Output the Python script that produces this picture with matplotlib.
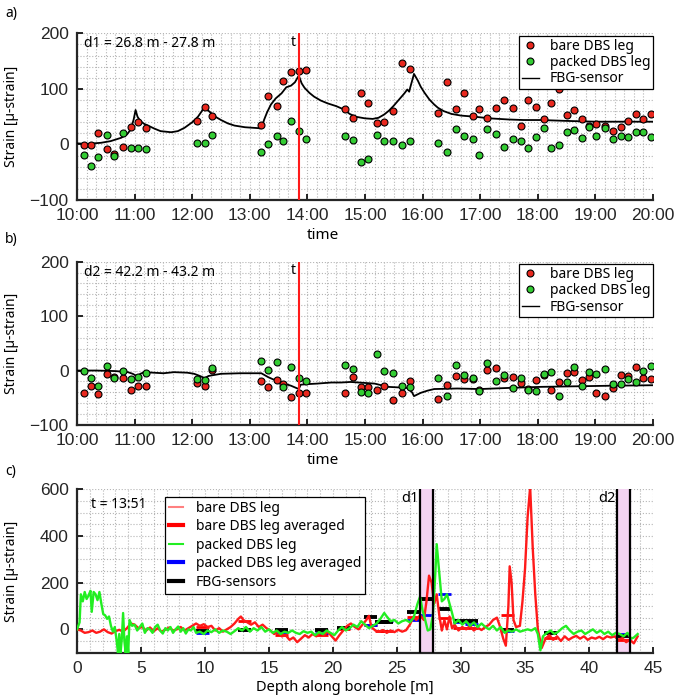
import numpy as np
import matplotlib.pyplot as plt
from matplotlib.lines import Line2D
from matplotlib.ticker import MultipleLocator

plt.rcParams['font.family'] = ['Noto Sans', 'DejaVu Sans']


def hrs(s):
    h, m = s.split(':')
    return int(h) + int(m) / 60.0


# ---- panels a) and b): time series at d1 and d2 ----
sample_times = ['10:07', '10:15', '10:22', '10:31', '10:39', '10:48', '10:56', '11:04', '11:12',
                '12:05', '12:13', '12:21',
                '13:12', '13:19', '13:28', '13:35', '13:43', '13:51', '13:59',
                '14:39', '14:47', '14:56', '15:03', '15:12', '15:20', '15:29', '15:38', '15:47',
                '16:16', '16:25', '16:35', '16:43', '16:52', '16:59', '17:07', '17:16', '17:25',
                '17:34', '17:42', '17:50', '17:58', '18:06', '18:14', '18:22', '18:30', '18:38',
                '18:46', '18:53', '19:01', '19:10', '19:18', '19:27', '19:34', '19:42', '19:50', '19:58']

bare_d1 = [-1, -1, 21, -9, -18, -5, 31, 41, 29,
           42, 68, 51,
           35, 88, 69, 115, 130, 133, 134,
           64, 47, 92, 75, 38, 41, 60, 147, 135,
           56, 112, 63, 93, 52, 63, 48, 65, 80,
           65, 34, 80, 68, 45, 75, 99, 53, 62,
           46, 34, 37, 34, 25, 32, 43, 54, 45, 54]
packed_d1 = [-19, -39, -23, 17, -20, 20, -7, -6, -8,
             3, 3, 17,
             -14, 0, 16, 7, 42, 24, 9,
             15, 8, -32, -26, 17, 7, 7, -1, 6,
             3, -14, 27, 15, 9, -19, 28, 18, -5,
             10, 7, -7, 14, 29, -7, -1, 23, 26,
             11, 32, 16, 30, 10, 16, 13, 22, 23, 13]

bare_d2 = [-41, -29, -44, -6, -12, -14, -36, -29, -29,
           -22, -29, 1,
           -20, -30, -17, -25, -48, -41, -41,
           -42, -11, -31, -31, -36, -28, -54, -42, -19,
           -53, -27, -10, -15, -15, -36, 1, 4, -14,
           -11, -22, -34, -17, -8, -35, -21, -4, -2,
           -17, -11, -41, -46, -33, -9, -10, 6, -13, -16]
packed_d2 = [-1, -14, -29, 8, -13, -1, -16, -12, -5,
             -16, -17, 4,
             17, 1, 15, -31, 6, -14, -20,
             11, 3, -39, -41, 31, -1, -4, -29, -31,
             -14, -46, 11, -8, -14, -38, 13, -19, -8,
             -33, -14, -36, -38, -6, -3, -46, -21, 6,
             -29, -3, -6, 3, -24, -24, -15, -21, -1, 9]

fbg_d1_times = ['10:00', '10:10', '10:25', '10:35', '10:46', '10:52', '10:56', '10:59', '11:01', '11:03',
                '11:06', '11:10', '11:14', '11:20', '11:27', '11:38', '11:45', '11:52', '12:00', '12:06',
                '12:10', '12:13', '12:16', '12:20', '12:25', '12:30', '12:37', '12:44', '12:55', '13:12',
                '13:15', '13:18', '13:22', '13:27', '13:33', '13:38', '13:43', '13:47', '13:51', '13:54',
                '13:57', '14:02', '14:07', '14:14', '14:21', '14:30', '14:38', '14:44', '14:50', '15:00',
                '15:08', '15:14', '15:20', '15:25', '15:30', '15:36', '15:41', '15:44', '15:46', '15:47',
                '15:51', '15:55', '15:58', '16:02', '16:07', '16:12', '16:16', '16:22', '16:30', '16:40',
                '16:54', '17:10', '17:29', '17:45', '18:03', '18:20', '18:38', '19:00', '19:13', '19:30', '20:00']
fbg_d1 = [2, 1, 3, 6, 12, 18, 27, 45, 62, 50,
          42, 37, 34, 29, 24, 22, 24, 30, 40, 50,
          60, 70, 62, 56, 49, 44, 38, 34, 31, 29,
          45, 58, 72, 83, 92, 103, 106, 112, 124, 110,
          102, 93, 86, 79, 74, 69, 63, 55, 50, 47,
          46, 48, 54, 61, 70, 82, 92, 99, 95, 102,
          127, 115, 104, 93, 81, 72, 66, 60, 55, 52,
          50, 47, 45, 44, 44, 43, 42, 41, 41, 41, 41]

fbg_d2_times = ['10:00', '10:20', '10:40', '10:53', '10:58', '11:03', '11:06', '11:10', '11:20', '11:30',
                '11:41', '11:55', '12:02', '12:08', '12:13', '12:17', '12:20', '12:30', '12:50', '13:12',
                '13:16', '13:19', '13:24', '13:29', '13:36', '13:43', '13:51', '13:53', '14:00', '14:10',
                '14:25', '14:35', '14:45', '15:10', '15:24', '15:35', '15:44', '15:49', '15:51', '15:58',
                '16:05', '16:12', '16:36', '17:00', '17:29', '18:03', '18:38', '19:13', '20:00']
fbg_d2 = [0, 0, -1, -3, -6, -11, -6, -3, -4, -5,
          -3, -4, -6, -10, -14, -10, -9, -6, -5, -5,
          -9, -12, -16, -19, -24, -28, -34, -26, -25, -24,
          -22, -22, -21, -24, -30, -31, -32, -40, -47, -41,
          -37, -34, -33, -34, -32, -30, -29, -28, -27]

t_snapshot = '13:51'
time_ticks = ['10:00', '11:00', '12:00', '13:00', '14:00', '15:00', '16:00', '17:00', '18:00', '19:00', '20:00']

# ---- panel c): strain profile along the borehole at t ----
bare_depth = [0.0, 0.3, 0.6, 0.9, 1.2, 1.5, 1.8, 2.1, 2.4, 2.7, 3.0, 3.3, 3.6, 3.9, 4.2, 4.5, 4.8,
              5.1, 5.4, 5.7, 6.0, 6.3, 6.6, 6.9, 7.2, 7.5, 7.8, 8.1, 8.4, 8.7, 9.0, 9.3, 9.6, 9.9,
              10.2, 10.5, 10.8, 11.1, 11.4, 11.7, 12.0, 12.3, 12.6, 12.8, 13.0, 13.3, 13.6, 13.9,
              14.2, 14.5, 14.8, 15.1, 15.4, 15.7, 16.0, 16.3, 16.6, 16.9, 17.2, 17.5, 17.8, 18.1,
              18.4, 18.7, 19.0, 19.3, 19.6, 19.9, 20.2, 20.5, 20.8, 21.1, 21.4, 21.7, 22.0, 22.3,
              22.6, 22.8, 23.0, 23.3, 23.6, 23.9, 24.2, 24.5, 24.8, 25.1, 25.4, 25.7, 26.0, 26.3,
              26.5, 26.8, 27.1, 27.3, 27.5, 27.7, 27.9, 28.1, 28.3, 28.5, 28.7, 28.9, 29.1, 29.3,
              29.5, 29.8, 30.1, 30.4, 30.7, 31.0, 31.3, 31.6, 31.9, 32.2, 32.5, 32.8, 33.0, 33.3,
              33.5, 33.7, 33.8, 33.95, 34.1, 34.3, 34.6, 34.8, 35.0, 35.2, 35.4, 35.6, 35.8, 36.0,
              36.3, 36.6, 36.9, 37.2, 37.5, 37.8, 38.1, 38.4, 38.7, 39.0, 39.3, 39.6, 39.9, 40.2,
              40.5, 40.8, 41.1, 41.4, 41.7, 42.0, 42.3, 42.6, 42.9, 43.2, 43.5, 43.8]
bare_strain = [0, -5, -15, -12, -5, -15, -10, 0, -12, -18, -8, -2, -10, 5, 25, 20, 5,
               10, -5, 8, -8, 5, -10, -2, 8, -5, 0, 10, -5, 5, 15, 25, 15, 22,
               10, 15, -5, 5, -10, 0, 10, 25, 45, 55, 40, 30, 20, 30,
               10, 20, 5, -5, -20, -10, -30, -25, -45, -35, -55, -40, -25, -35,
               -20, -30, -15, -25, -10, -30, -48, -25, -5, 15, 25, 10, 0, 20,
               40, 58, 10, -5, -10, -3, -15, -5, -12, -2, -10, -4, 20, 55,
               40, 60, 40, 120, 230, 200, 110, 150, 60, -5, 40, 0, 55, 5,
               20, -5, 10, 0, 15, -5, 8, -3, 10, 20, 40, 50, 20, -40,
               -70, 100, 270, 200, 40, 10, 15, 120, 260, 480, 610, 350, 150, 0,
               -80, -40, -25, -45, -30, -50, -30, -45, -35, -28, -40, -30, -45, -35,
               -40, -32, -42, -30, -35, -30, -45, -38, -55, -45, -60, -30]

packed_depth = [0.0, 0.2, 0.3, 0.45, 0.6, 0.75, 0.9, 1.05, 1.15, 1.3, 1.45, 1.6, 1.75, 1.9, 2.05,
                2.2, 2.35, 2.5, 2.65, 2.8, 2.95, 3.1, 3.2, 3.3, 3.4, 3.5, 3.6, 3.7, 3.8, 3.9, 4.0,
                4.1, 4.3, 4.5, 4.7, 4.9, 5.1, 5.3, 5.5, 5.7, 5.9, 6.1, 6.3, 6.5, 6.7, 6.9, 7.1,
                7.3, 7.5, 7.7, 7.9, 8.1, 8.3, 8.5, 8.7, 8.9, 9.1, 9.3, 9.6, 9.9, 10.2, 10.5, 10.8,
                11.1, 11.4, 11.7, 12.0, 12.3, 12.6, 12.9, 13.2, 13.5, 13.8, 14.1, 14.4, 14.7, 15.0,
                15.3, 15.6, 15.9, 16.2, 16.5, 16.8, 17.1, 17.4, 17.7, 18.0, 18.3, 18.6, 18.9, 19.2,
                19.5, 19.8, 20.1, 20.4, 20.7, 21.0, 21.3, 21.6, 21.9, 22.2, 22.5, 22.8, 23.1, 23.4,
                23.7, 24.0, 24.2, 24.5, 24.8, 25.1, 25.4, 25.7, 26.0, 26.3, 26.6, 26.8, 27.0, 27.2,
                27.4, 27.6, 27.8, 28.0, 28.1, 28.3, 28.5, 28.7, 28.9, 29.1, 29.3, 29.5, 29.8, 30.1,
                30.4, 30.7, 31.0, 31.3, 31.6, 31.9, 32.2, 32.5, 32.8, 33.1, 33.4, 33.7, 34.0, 34.3,
                34.6, 34.9, 35.2, 35.5, 35.8, 36.0, 36.2, 36.4, 36.7, 37.0, 37.3, 37.6, 37.9, 38.2,
                38.5, 38.8, 39.1, 39.4, 39.7, 40.0, 40.3, 40.6, 40.9, 41.2, 41.5, 41.8, 42.1, 42.4,
                42.7, 43.0, 43.3, 43.5, 43.8]
packed_strain = [0, 30, 150, 120, 160, 130, 145, 165, 75, 160, 150, 125, 160, 110, 65,
                 60, 45, 55, 15, -10, 10, -50, -100, -20, -100, -40, 70, -50, -100, -30, -100,
                 40, 15, 20, -5, 10, 25, -15, 5, 0, -15, 10, 20, -5, -18, 5, -5,
                 10, -15, 0, 12, -10, 5, -18, 0, -5, 10, -15, -10, -20, -5, -12, 0,
                 -15, -5, -10, -20, -8, 5, -5, 10, -10, 5, -5, 10, -10, 0,
                 -15, -5, -20, -10, -15, -5, -15, -20, -8, -15, -10, -25, -12, -20,
                 -5, -15, -25, -5, 10, -5, 5, 20, 10, 35, 20, 5, 15, 25,
                 45, 70, 55, 35, 40, 25, 35, 40, 30, 50, 110, 140, 80, 40,
                 -5, 0, 60, 250, 365, 240, 120, 130, 150, 110, 70, 25, 40, 20,
                 35, 15, 30, 10, 25, 10, 0, 15, -5, 10, -15, -5, -10, 0,
                 -10, -5, 0, -5, 5, -20, -90, -30, -15, -5, -20, -10, 5, 15,
                 -5, -20, -10, -5, -20, -10, 0, -15, -5, -20, -10, -25, -15, -20,
                 -30, -15, -40, -35, -20]

sensor_depth = [9.8, 13.1, 16.0, 19.1, 20.8, 22.9, 23.8, 24.2, 26.3, 27.3, 28.7, 29.9, 30.8, 33.6, 37.0, 42.7]
fbg_strain = [-8, -4, -4, -1, 7, 55, 31, 31, 76, 132, 87, 34, 34, -3, -14, -28]
bare_avg = [10, 35, -25, -25, 0, 20, -5, -5, 55, 130, 50, 5, 5, 60, -35, -45]
packed_avg = [-15, -3, -10, -15, 5, 20, 35, 35, 40, 60, 150, 30, 25, -8, -10, -20]

d1_range = [26.8, 27.8]
d2_range = [42.2, 43.2]

# ---- styling ----
red = '#e8281e'
green = '#33cc33'
grid_kw = dict(color='#b5b5b5', linestyle=':', linewidth=0.8)
tick_font = 'Liberation Sans'


def style_axes(ax):
    for s in ['top', 'right']:
        ax.spines[s].set_visible(False)
    for s in ['left', 'bottom']:
        ax.spines[s].set_linewidth(1.6)
        ax.spines[s].set_color('#262626')
    ax.tick_params(which='major', direction='in', length=4, width=1.2, labelsize=12.5, pad=6)
    ax.tick_params(which='minor', length=0)
    for lab in ax.get_xticklabels() + ax.get_yticklabels():
        lab.set_family(tick_font)
        lab.set_color('#262626')
    ax.grid(True, which='both', **grid_kw)
    ax.set_axisbelow(True)


fig = plt.figure(figsize=(6.92, 7.0), dpi=100)
ax_a = fig.add_axes([0.1113, 0.7143, 0.8324, 0.238])
ax_b = fig.add_axes([0.1113, 0.3929, 0.8324, 0.2333])
ax_c = fig.add_axes([0.1113, 0.0676, 0.8324, 0.2334])

t_samples = [hrs(s) for s in sample_times]
t_cut = hrs(t_snapshot)

for ax, bare, packed, ft, fv, label in [
        (ax_a, bare_d1, packed_d1, fbg_d1_times, fbg_d1, 'd1 = 26.8 m - 27.8 m'),
        (ax_b, bare_d2, packed_d2, fbg_d2_times, fbg_d2, 'd2 = 42.2 m - 43.2 m')]:
    ax.plot([hrs(s) for s in ft], fv, color='black', lw=1.3, zorder=3, label='FBG-sensor')
    ax.plot(t_samples, bare, 'o', color=red, mec='black', mew=0.8, ms=5, zorder=4, label='bare DBS leg')
    ax.plot(t_samples, packed, 'o', color=green, mec='black', mew=0.8, ms=5, zorder=4, label='packed DBS leg')
    ax.axvline(t_cut, color='#ff1a1a', lw=1.5, zorder=5)
    ax.text(t_cut - 0.06, 183, 't', ha='right', va='center', fontsize=10)
    ax.text(10.12, 181, label, ha='left', va='center', fontsize=10)
    ax.set_xlim(10, 20)
    ax.set_ylim(-100, 200)
    ax.set_xticks([hrs(s) for s in time_ticks])
    ax.set_xticklabels(time_ticks)
    ax.set_yticks([-100, 0, 100, 200])
    ax.xaxis.set_minor_locator(MultipleLocator(1 / 6))
    ax.yaxis.set_minor_locator(MultipleLocator(20))
    style_axes(ax)
    ax.set_ylabel('Strain [µ-strain]', fontsize=10)
    ax.yaxis.set_label_coords(-0.1, 0.5)
    ax.set_xlabel('time', fontsize=11)
    ax.xaxis.set_label_coords(0.427, -0.17)
    h = [Line2D([], [], ls='none', marker='o', color=red, mec='black', mew=0.8, ms=5),
         Line2D([], [], ls='none', marker='o', color=green, mec='black', mew=0.8, ms=5),
         Line2D([], [], color='black', lw=1)]
    leg = ax.legend(h, ['bare DBS leg', 'packed DBS leg', 'FBG-sensor'], loc='upper right',
                    bbox_to_anchor=(1.0, 0.985), fontsize=10, fancybox=False, framealpha=1,
                    edgecolor='black', borderpad=0.2, labelspacing=0.1, handlelength=1.2,
                    handletextpad=0.8, borderaxespad=0)
    leg.get_frame().set_linewidth(0.9)

# panel c
for rng in (d1_range, d2_range):
    ax_c.axvspan(rng[0], rng[1], color='#f4d4f2', zorder=1)
    for x in rng:
        ax_c.axvline(x, color='black', lw=1.6, zorder=6)
ax_c.text(d1_range[0] - 0.1, 560, 'd1', ha='right', va='center', fontsize=10.5)
ax_c.text(d2_range[0] - 0.1, 560, 'd2', ha='right', va='center', fontsize=10.5)

sd = np.array(sensor_depth)
ax_c.hlines(bare_avg, sd - 0.5, sd + 0.5, color='red', lw=2, zorder=3)
ax_c.hlines(packed_avg, sd - 0.5, sd + 0.5, color='blue', lw=2, zorder=3)
ax_c.hlines(fbg_strain, sd - 0.5, sd + 0.5, color='black', lw=2.8, zorder=4)
ax_c.plot(bare_depth, bare_strain, color='#ff1a1a', lw=1.7, zorder=5)
ax_c.plot(packed_depth, packed_strain, color='#22ee22', lw=1.7, zorder=5)
ax_c.text(1.1, 535, 't = 13:51', ha='left', va='center', fontsize=10)

ax_c.set_xlim(0, 45)
ax_c.set_ylim(-100, 600)
ax_c.set_xticks(np.arange(0, 46, 5))
ax_c.set_yticks([0, 200, 400, 600])
ax_c.xaxis.set_minor_locator(MultipleLocator(1))
ax_c.yaxis.set_minor_locator(MultipleLocator(50))
style_axes(ax_c)
ax_c.set_ylabel('Strain [µ-strain]', fontsize=10)
ax_c.yaxis.set_label_coords(-0.1, 0.5)
ax_c.set_xlabel('Depth along borehole [m]', fontsize=10.5)
ax_c.xaxis.set_label_coords(0.465, -0.17)

hc = [Line2D([], [], color='#ff8080', lw=1.5),
      Line2D([], [], color='red', lw=3),
      Line2D([], [], color='#22ee22', lw=1.5),
      Line2D([], [], color='blue', lw=3),
      Line2D([], [], color='black', lw=3)]
legc = ax_c.legend(hc, ['bare DBS leg', 'bare DBS leg averaged', 'packed DBS leg',
                        'packed DBS leg averaged', 'FBG-sensors'],
                   loc='upper left', bbox_to_anchor=(0.153, 0.955), fontsize=10, fancybox=False,
                   framealpha=1, edgecolor='black', borderpad=0.3, labelspacing=0.25,
                   handlelength=1.0, handletextpad=0.9, borderaxespad=0)
legc.get_frame().set_linewidth(0.9)
legc.set_zorder(10)

fig.text(5 / 692, 1 - 13 / 700, 'a)', fontsize=10, va='center')
fig.text(5 / 692, 1 - 240 / 700, 'b)', fontsize=10, va='center')
fig.text(5 / 692, 1 - 472 / 700, 'c)', fontsize=10, va='center')

fig.savefig('out.png', dpi=100)
